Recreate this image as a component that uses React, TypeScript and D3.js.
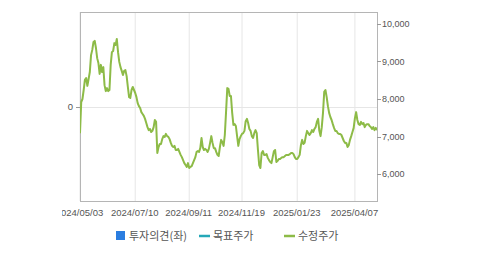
import React from "react";
import * as d3 from "d3";

const tickIndex = [0, 45, 89, 132, 177, 224];
const tickLabels = ["2024/05/03", "2024/07/10", "2024/09/11", "2024/11/19", "2025/01/23", "2025/04/07"];
const priceTicks = [6000, 7000, 8000, 9000, 10000];
const opinionTicks = [0];

const adjPrice = [
  7090, 7920, 8000, 8240, 8510, 8560, 8350, 8530, 8720, 9170,
  9310, 9520, 9550, 9360, 9090, 8960, 8670, 8910, 8720, 8850,
  8370, 8210, 8290, 8210, 8240, 8910, 9250, 9280, 9490, 9440,
  9600, 9250, 8990, 8850, 8750, 8640, 8750, 8770, 8610, 8320,
  8050, 8030, 8240, 8320, 8240, 8160, 8050, 7890, 7810, 7760,
  7650, 7600, 7550, 7470, 7360, 7250, 7170, 7200, 7120, 7150,
  7250, 7440, 7390, 6560, 6720, 6800, 6800, 6930, 7010, 6990,
  7070, 7010, 6990, 6930, 6830, 6750, 6720, 6750, 6640, 6640,
  6670, 6590, 6510, 6450, 6370, 6290, 6240, 6190, 6290, 6160,
  6190, 6210, 6290, 6370, 6450, 6590, 6610, 6590, 6690, 6960,
  6720, 6640, 6670, 6640, 6590, 6670, 6830, 7010, 6830, 6690,
  6690, 6590, 6510, 6480, 6720, 6910, 6850, 6750, 7040, 7650,
  8290, 8270, 8080, 8080, 7630, 7310, 7330, 7280, 7010, 6750,
  6930, 7010, 7070, 7090, 7150, 7410, 7470, 7360, 7200, 7150,
  7010, 6960, 7090, 7170, 7090, 6640, 6240, 6160, 6560, 6610,
  6510, 6510, 6530, 6430, 6370, 6320, 6290, 6450, 6610, 6640,
  6320, 6350, 6400, 6400, 6430, 6450, 6450, 6480, 6510, 6510,
  6510, 6530, 6560, 6560, 6530, 6450, 6400, 6400, 6450, 6510,
  6770, 6910, 6800, 6830, 7010, 7150, 7090, 7040, 7090, 7170,
  7120, 7200, 7250, 7390, 7470, 7150, 7010, 7250, 7630, 8190,
  8240, 8050, 7810, 7630, 7520, 7440, 7330, 7230, 7150, 7150,
  7090, 7070, 7070, 7040, 6960, 6880, 6830, 6830, 6720, 6770,
  6910, 7010, 7120, 7230, 7490, 7650, 7440, 7330, 7310, 7390,
  7330, 7360, 7250, 7310, 7330, 7330, 7280, 7250, 7200, 7250,
  7170, 7230, 7170,
];

const legendItems = [
  { label: "투자의견(좌)", kind: "square", color: "#2b7de0" },
  { label: "목표주가", kind: "line", color: "#25a8b8" },
  { label: "수정주가", kind: "line", color: "#8dbb47" },
];

const W = 479;
const H = 255;
const L = 80, R = 377, T = 12, B = 201;

export default function App() {
  const x = d3.scaleLinear().domain([0, adjPrice.length - 1]).range([L, R]);
  const y = d3.scaleLinear().domain([5280, 10320]).range([B, T]);
  const yL = d3.scaleLinear().domain([-1, 1]).range([B, T]);
  const line = d3
    .line<number>()
    .x((_, i) => x(i))
    .y((d) => y(d));

  const legendX = [116, 199, 284];
  const font = "'Liberation Sans', Arial, sans-serif";
  const kfont = "'Noto Sans CJK KR', 'Noto Sans', sans-serif";

  return (
    <svg
      width={W}
      height={H}
      style={{ position: "absolute", left: 0, top: 0, background: "#fff" }}
    >
      <defs>
        <clipPath id="lblclip">
          <rect x={62} y={0} width={W - 62} height={H} />
        </clipPath>
        <clipPath id="plotclip">
          <rect x={L} y={T} width={R - L} height={B - T} />
        </clipPath>
      </defs>
      {tickIndex.map((t, i) => (
        <line key={"vg" + i} x1={x(t)} x2={x(t)} y1={T} y2={B} stroke="#e6e6e6" strokeWidth={1} />
      ))}
      {opinionTicks.map((t) => (
        <line key={"hg" + t} x1={L} x2={R} y1={Math.round(yL(t)) + 0.5} y2={Math.round(yL(t)) + 0.5} stroke="#e6e6e6" />
      ))}
      <line x1={L} x2={R} y1={T + 0.5} y2={T + 0.5} stroke="#b5b5b5" />
      <line x1={L + 0.5} x2={L + 0.5} y1={T} y2={B} stroke="#b5b5b5" />
      <line x1={R + 0.5} x2={R + 0.5} y1={T} y2={B} stroke="#b5b5b5" />
      <line x1={L} x2={R + 1} y1={B + 0.5} y2={B + 0.5} stroke="#b5b5b5" />
      <path d={line(adjPrice) || ""} fill="none" stroke="#8dbb47" strokeWidth={2} strokeLinejoin="round" clipPath="url(#plotclip)" />
      {priceTicks.map((t) => (
        <g key={"rt" + t}>
          <line x1={R} x2={R + 4} y1={Math.round(y(t)) + 0.5} y2={Math.round(y(t)) + 0.5} stroke="#999" />
          <text x={R + 5} y={y(t)} dy="0.35em" fontSize={9} fontFamily={font} fill="#555">
            {d3.format(",")(t)}
          </text>
        </g>
      ))}
      {opinionTicks.map((t) => (
        <g key={"lt" + t}>
          <line x1={L - 4} x2={L} y1={Math.round(yL(t)) + 0.5} y2={Math.round(yL(t)) + 0.5} stroke="#999" />
          <text x={L - 7} y={yL(t)} dy="0.35em" textAnchor="end" fontSize={9.5} fontFamily={font} fill="#555">
            {t}
          </text>
        </g>
      ))}
      <g clipPath="url(#lblclip)">
        {tickIndex.map((t, i) => (
          <text key={"xl" + i} x={x(t) - 0.5} y={216} textAnchor="middle" fontSize={9.5} fontFamily={font} fill="#555">
            {tickLabels[i]}
          </text>
        ))}
      </g>
      {legendItems.map((it, i) => (
        <g key={"lg" + i}>
          {it.kind === "square" ? (
            <rect x={legendX[i]} y={231} width={9} height={9} fill={it.color} />
          ) : (
            <line x1={legendX[i]} x2={legendX[i] + 11} y1={236} y2={236} stroke={it.color} strokeWidth={2.5} />
          )}
          <text x={legendX[i] + (it.kind === "square" ? 13 : 14)} y={240} fontSize={11} fontFamily={kfont} fill="#555">
            {it.label}
          </text>
        </g>
      ))}
    </svg>
  );
}
